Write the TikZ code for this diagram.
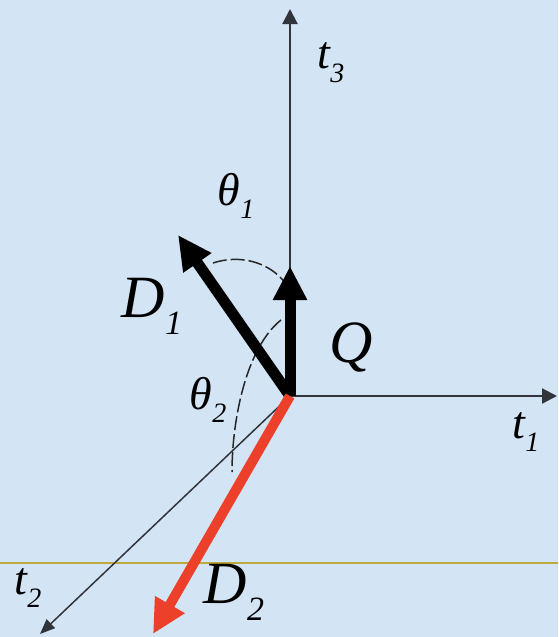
\documentclass[tikz,border=0pt]{standalone}
\usepackage{fontspec}
\setmainfont{Liberation Serif}
\usetikzlibrary{arrows.meta}
\definecolor{bgblue}{RGB}{211,228,245}
\definecolor{axisgray}{RGB}{50,52,60}
\definecolor{redvec}{RGB}{236,64,42}
\definecolor{yellowline}{RGB}{190,170,60}
\tikzset{
  axisline/.style={draw=axisgray, line width=2.2pt, -{Triangle[length=15pt,width=15pt]}},
  thinaxis/.style={draw=axisgray, line width=1.5pt, -{Triangle[length=15pt,width=12pt]}},
  vec/.style={line width=11pt, -{Triangle[length=34pt,width=32pt]}},
  anglearc/.style={draw=black!85, line width=1.5pt, dash pattern=on 14pt off 4pt},
  biglabel/.style={inner sep=0pt, font=\fontsize{60}{60}\selectfont\itshape},
  midlabel/.style={inner sep=0pt, font=\fontsize{46}{46}\selectfont\itshape},
}
\newcommand{\lowsub}[1]{\raisebox{-0.28em}{\fontsize{34}{34}\selectfont #1}}
\newcommand{\smallsub}[1]{\raisebox{-0.3em}{\fontsize{28}{28}\selectfont #1}}
\begin{document}
\begin{tikzpicture}[x=1pt,y=-1pt]
  \fill[bgblue] (0,0) rectangle (558,637);
  \useasboundingbox (0,0) rectangle (558,637);
  % coordinates
  \coordinate (O) at (290,396);
  \coordinate (t3tip) at (290,9);
  \coordinate (t1tip) at (557,396);
  \coordinate (t2tip) at (40,634);
  \coordinate (D1tip) at (178,235);
  \coordinate (Qtip) at (290,266);
  \coordinate (D2tip) at (153,634);
  \coordinate (yl) at (0,563);
  \coordinate (yr) at (558,563);
  % yellow line
  \draw[yellowline, line width=2.2pt] (yl) -- (yr);
  % axes
  \draw[axisline] (O) -- (t3tip);
  \draw[axisline] (O) -- (t1tip);
  \draw[thinaxis] (O) -- (t2tip);
  % angle arcs
  \coordinate (a1s) at (213,263);
  \coordinate (a1e) at (286,284);
  \draw[anglearc] (a1s) .. controls (240,254) and (270,262) .. (a1e);
  \coordinate (a2s) at (281,320);
  \coordinate (a2e) at (232,472);
  \draw[anglearc] (a2s) .. controls (246,348) and (232,420) .. (a2e);
  % vectors
  \draw[vec, black] (O) -- (D1tip);
  \draw[vec, black] (O) -- (Qtip);
  \draw[vec, redvec, line width=10pt] (O) -- (D2tip);
  % labels
  \node[midlabel] (lt3) at (331,63) {t\smallsub{3}};
  \node[midlabel] (lt1) at (526,432) {t\smallsub{1}};
  \node[midlabel] (lt2) at (28,588) {t\smallsub{2}};
  \node[midlabel] (lth1) at (236,196) {θ\smallsub{1}};
  \node[midlabel] (lth2) at (208,400) {θ\smallsub{2}};
  \node[biglabel] (lD1) at (152,306) {D\lowsub{1}};
  \node[biglabel] (lQ) at (351,347) {Q};
  \node[biglabel] (lD2) at (234,592) {D\lowsub{2}};
\end{tikzpicture}
\end{document}
